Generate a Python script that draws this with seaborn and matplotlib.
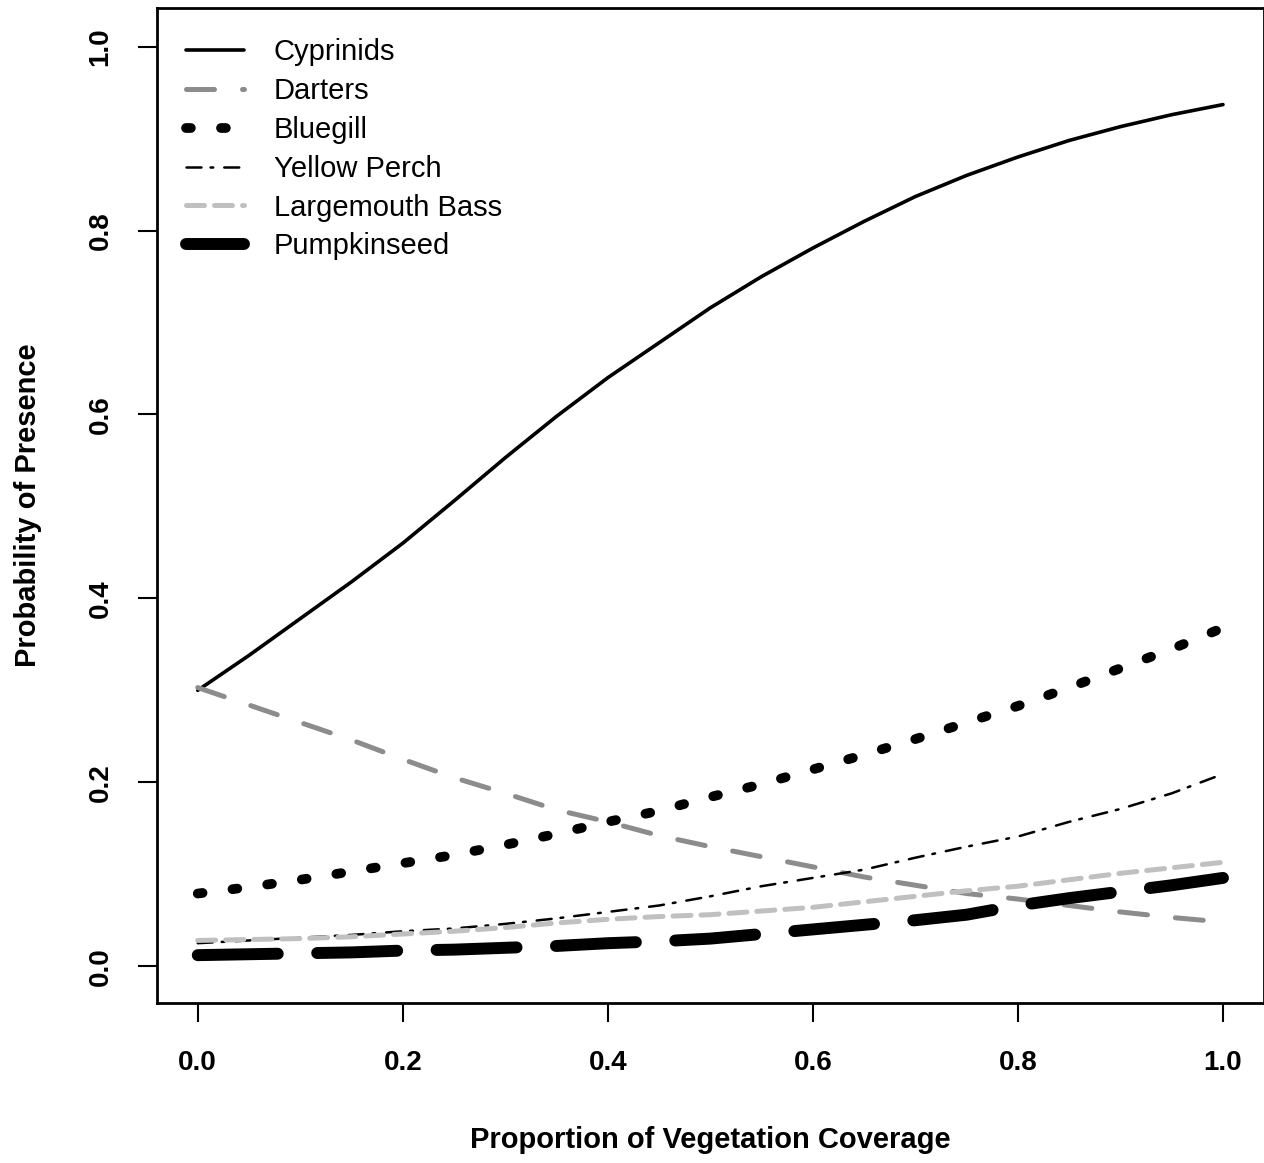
import numpy as np
import pandas as pd
import matplotlib
matplotlib.use("Agg")
import matplotlib.pyplot as plt
import seaborn as sns

# values at steps of 0.05 vegetation coverage
coverage = [0.00, 0.05, 0.10, 0.15, 0.20, 0.25, 0.30, 0.35, 0.40, 0.45, 0.50,
            0.55, 0.60, 0.65, 0.70, 0.75, 0.80, 0.85, 0.90, 0.95, 1.00]
cyprinids = [0.300, 0.338, 0.378, 0.418, 0.460, 0.506, 0.553, 0.598, 0.640, 0.678, 0.716,
             0.750, 0.781, 0.810, 0.837, 0.860, 0.880, 0.898, 0.913, 0.926, 0.937]
darters = [0.303, 0.284, 0.265, 0.246, 0.225, 0.205, 0.188, 0.170, 0.157, 0.142, 0.130,
           0.119, 0.108, 0.097, 0.088, 0.079, 0.073, 0.066, 0.059, 0.053, 0.048]
bluegill = [0.079, 0.086, 0.094, 0.103, 0.112, 0.121, 0.132, 0.144, 0.157, 0.169, 0.184,
            0.198, 0.214, 0.230, 0.247, 0.265, 0.283, 0.303, 0.324, 0.345, 0.368]
yellow_perch = [0.025, 0.028, 0.031, 0.034, 0.038, 0.041, 0.046, 0.052, 0.059, 0.066, 0.076,
                0.087, 0.096, 0.105, 0.118, 0.130, 0.141, 0.157, 0.171, 0.188, 0.209]
largemouth = [0.028, 0.029, 0.030, 0.032, 0.035, 0.038, 0.042, 0.047, 0.051, 0.054, 0.056,
              0.060, 0.064, 0.070, 0.076, 0.082, 0.087, 0.094, 0.101, 0.107, 0.113]
pumpkinseed = [0.012, 0.013, 0.014, 0.015, 0.017, 0.018, 0.020, 0.022, 0.025, 0.027, 0.030,
               0.035, 0.040, 0.045, 0.050, 0.056, 0.066, 0.074, 0.081, 0.088, 0.096]

ticks = [0.0, 0.2, 0.4, 0.6, 0.8, 1.0]
tick_labels = ["0.0", "0.2", "0.4", "0.6", "0.8", "1.0"]

sns.set_style("white")
plt.rcParams['font.family'] = ['Liberation Sans', 'DejaVu Sans']
plt.rcParams['text.color'] = 'black'
plt.rcParams['axes.labelcolor'] = 'black'
plt.rcParams['xtick.color'] = 'black'
plt.rcParams['ytick.color'] = 'black'

fig = plt.figure(figsize=(12.64, 11.63), dpi=100)
ax = fig.add_axes([0.124, 0.1376, 0.876, 0.8555])

# (label, values, colour, linewidth, linestyle)
series = [
    ("Cyprinids", cyprinids, "black", 2.6, "-"),
    ("Darters", darters, "#8c8c8c", 3.6, (0, (5.6, 5.6))),
    ("Bluegill", bluegill, "black", 7.0, (0, (0.5, 3.1))),
    ("Yellow Perch", yellow_perch, "black", 1.8, (0, (6, 3.6, 1.1, 4.4))),
    ("Largemouth Bass", largemouth, "#c0c0c0", 3.6, (0, (3.6, 2.0))),
    ("Pumpkinseed", pumpkinseed, "black", 8.6, (0, (6.7, 3.3))),
]

for name, vals, col, lw, ls in series:
    sns.lineplot(x=coverage, y=vals, ax=ax, color=col, linewidth=lw,
                 linestyle=ls, dash_capstyle="round", solid_capstyle="round",
                 label=name)

ax.set_xlim(-0.04, 1.04)
ax.set_ylim(-0.04, 1.042)
ax.set_xticks(ticks)
ax.set_xticklabels(tick_labels, fontsize=20, fontweight="bold")
ax.set_yticks(ticks)
ax.set_yticklabels(tick_labels, fontsize=20, fontweight="bold", rotation=90, va="center")
ax.tick_params(axis="both", direction="out", length=14, width=1.5, color="black",
               labelcolor="black", bottom=True, left=True)
ax.tick_params(axis="x", pad=20)
ax.tick_params(axis="y", pad=17)

for sp in ax.spines.values():
    sp.set_visible(True)
    sp.set_color("black")
    sp.set_linewidth(2)

ax.set_xlabel("Proportion of Vegetation Coverage", fontsize=21, fontweight="bold",
              labelpad=36, color="black")
ax.set_ylabel("Probability of Presence", fontsize=21, fontweight="bold",
              labelpad=33, color="black")

leg = ax.legend(loc="upper left", bbox_to_anchor=(0.008, 0.99), frameon=False,
                fontsize=21, handlelength=2.0, handletextpad=1.0, labelspacing=0.37,
                borderpad=0.2)
for t in leg.get_texts():
    t.set_color("black")

fig.savefig("out.png", dpi=100)
